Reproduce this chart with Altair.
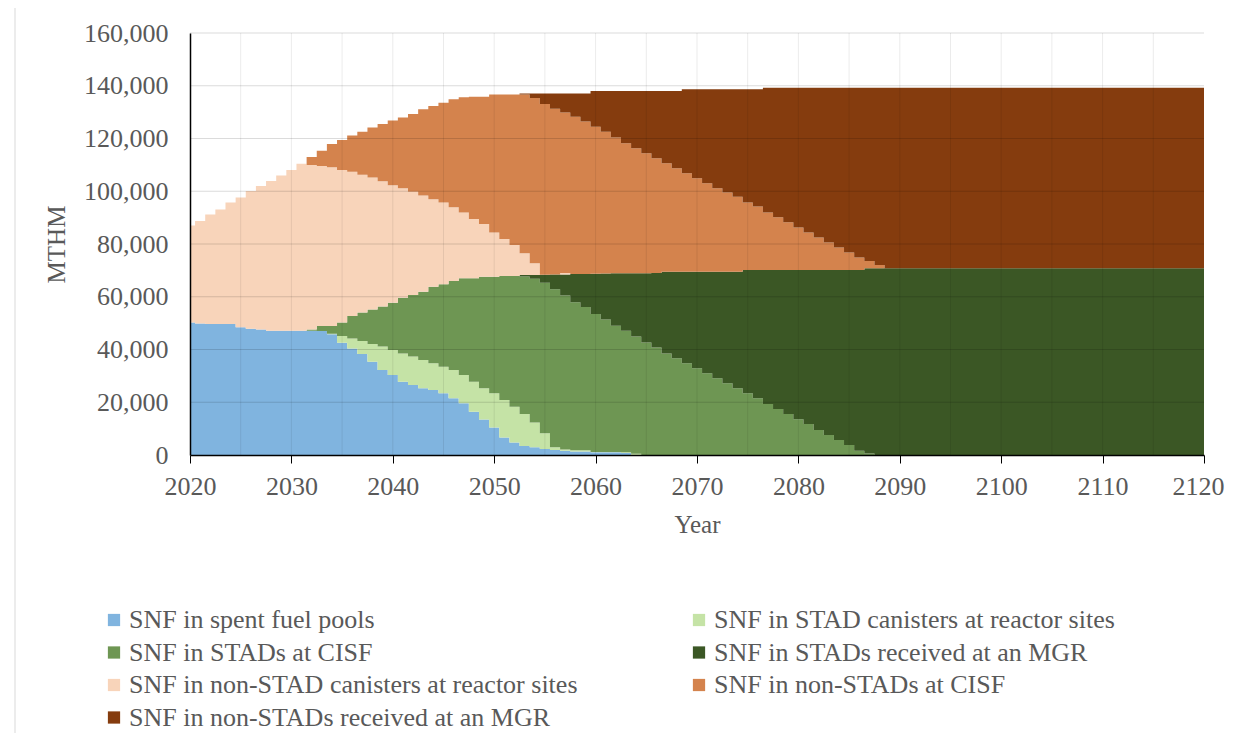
import altair as alt
import pandas as pd

# Years (one value per year, steps centred on the year)
years = list(range(2020, 2121))

series_names = [
    "SNF in spent fuel pools",
    "SNF in STAD canisters at reactor sites",
    "SNF in STADs at CISF",
    "SNF in STADs received at an MGR",
    "SNF in non-STAD canisters at reactor sites",
    "SNF in non-STADs at CISF",
    "SNF in non-STADs received at an MGR",
]
series_colors = ["#80B4DF", "#C5E3A6", "#6E9653", "#3B5725", "#F8D4BA", "#D4834D", "#853C0E"]

# Values in thousand MTHM, years 2020..2120
pools = [
    50.2, 49.9, 49.7, 49.7, 49.7, 48.4, 47.9, 47.6, 47.1, 47.1, 47.1, 47.1,
    47.1, 47.0, 45.8, 42.6, 40.4, 38.3, 35.4, 32.2, 30.3, 27.8,
    26.5, 25.3, 24.6, 23.4, 21.5, 19.6, 16.4, 13.5, 10.4, 6.6,
    4.7, 3.4, 2.9, 2.3, 1.9, 1.6, 1.3, 1.3, 1.0, 1.0,
    1.0, 0.8, 0, 0, 0, 0, 0, 0, 0, 0,
    0, 0, 0, 0, 0, 0, 0, 0, 0, 0,
    0, 0, 0, 0, 0, 0, 0, 0, 0, 0,
    0, 0, 0, 0, 0, 0, 0, 0, 0, 0,
    0, 0, 0, 0, 0, 0, 0, 0, 0, 0,
    0, 0, 0, 0, 0, 0, 0, 0, 0,
]
stad_reactor = [
    0, 0, 0, 0, 0, 0, 0, 0, 0, 0, 0, 0,
    0, 0, 0.2, 2.5, 3.8, 4.9, 6.7, 8.9, 9.5, 10.7,
    10.8, 10.7, 10.2, 10.1, 10.7, 10.7, 11.4, 11.8, 13.0, 14.3,
    13.6, 12.1, 9.4, 5.9, 1.0, 0.5, 0.5, 0.5, 0.1, 0.1,
    0.1, 0.2, 0.5, 0, 0, 0, 0, 0, 0, 0,
    0, 0, 0, 0, 0, 0, 0, 0, 0, 0,
    0, 0, 0, 0, 0, 0, 0, 0, 0, 0,
    0, 0, 0, 0, 0, 0, 0, 0, 0, 0,
    0, 0, 0, 0, 0, 0, 0, 0, 0, 0,
    0, 0, 0, 0, 0, 0, 0, 0, 0,
]
stad_cisf = [
    0, 0, 0, 0, 0, 0, 0, 0, 0, 0, 0, 0,
    0.5, 1.9, 2.9, 5.1, 8.5, 10.8, 13.1, 15.2, 17.9, 21.1,
    23.4, 25.9, 29.0, 31.2, 33.8, 36.7, 39.2, 42.3, 44.2, 47.0,
    49.6, 52.2, 54.5, 57.1, 59.9, 58.4, 56.1, 54.3, 52.4, 50.3,
    47.9, 46.1, 44.4, 42.7, 40.8, 38.5, 36.7, 34.8, 32.9, 31.0,
    29.1, 27.2, 25.3, 23.4, 21.5, 19.3, 17.4, 15.5, 13.6, 11.8,
    9.5, 7.6, 5.7, 3.8, 1.6, 0.6, 0, 0, 0, 0,
    0, 0, 0, 0, 0, 0, 0, 0, 0, 0,
    0, 0, 0, 0, 0, 0, 0, 0, 0, 0,
    0, 0, 0, 0, 0, 0, 0, 0, 0,
]
stad_mgr = [
    0, 0, 0, 0, 0, 0, 0, 0, 0, 0, 0, 0,
    0, 0, 0, 0, 0, 0, 0, 0, 0, 0,
    0, 0, 0, 0, 0, 0, 0, 0, 0, 0,
    0, 0.5, 1.4, 3.0, 5.6, 7.9, 10.7, 12.5, 15.2, 17.4,
    19.9, 21.8, 24.0, 26.2, 28.2, 31.0, 32.8, 34.7, 36.6, 38.5,
    40.4, 42.3, 44.2, 46.7, 48.6, 50.8, 52.7, 54.6, 56.5, 58.3,
    60.6, 62.5, 64.4, 66.3, 68.5, 70.2, 70.8, 70.8, 70.8, 70.8,
    70.8, 70.8, 70.8, 70.8, 70.8, 70.8, 70.8, 70.8, 70.8, 70.8,
    70.8, 70.8, 70.8, 70.8, 70.8, 70.8, 70.8, 70.8, 70.8, 70.8,
    70.8, 70.8, 70.8, 70.8, 70.8, 70.8, 70.8, 70.8, 70.8,
]
nonstad_reactor = [
    36.8, 38.8, 41.5, 43.4, 46.0, 49.2, 52.2, 54.4, 56.8, 58.9, 61.0, 63.3,
    62.4, 60.7, 60.2, 57.9, 54.7, 52.3, 50.0, 47.5, 44.6, 41.5,
    39.1, 36.5, 33.2, 31.0, 27.9, 24.9, 22.5, 20.0, 16.8, 14.0,
    11.7, 8.3, 4.5, 0, 0, 0.6, 0, 0, 0, 0,
    0, 0, 0, 0, 0, 0, 0, 0, 0, 0,
    0, 0, 0, 0, 0, 0, 0, 0, 0, 0,
    0, 0, 0, 0, 0, 0, 0, 0, 0, 0,
    0, 0, 0, 0, 0, 0, 0, 0, 0, 0,
    0, 0, 0, 0, 0, 0, 0, 0, 0, 0,
    0, 0, 0, 0, 0, 0, 0, 0, 0,
]
nonstad_cisf = [
    0, 0, 0, 0, 0, 0, 0, 0, 0, 0, 0, 0,
    3.0, 5.8, 8.8, 11.3, 13.7, 16.3, 19.0, 21.7, 24.5, 26.9,
    29.5, 32.7, 35.3, 37.9, 41.0, 43.7, 46.3, 48.2, 52.3, 54.8,
    57.1, 60.2, 62.7, 64.8, 62.9, 60.9, 59.6, 57.8, 55.8, 53.8,
    51.5, 49.3, 47.4, 45.5, 43.5, 41.1, 39.2, 37.3, 35.4, 33.5,
    31.6, 30.0, 28.4, 25.6, 24.1, 21.8, 20.0, 18.1, 16.2, 14.3,
    12.4, 10.5, 8.6, 6.7, 4.8, 2.8, 1.2, 0, 0, 0,
    0, 0, 0, 0, 0, 0, 0, 0, 0, 0,
    0, 0, 0, 0, 0, 0, 0, 0, 0, 0,
    0, 0, 0, 0, 0, 0, 0, 0, 0,
]
nonstad_mgr = [
    0, 0, 0, 0, 0, 0, 0, 0, 0, 0, 0, 0,
    0, 0, 0, 0, 0, 0, 0, 0, 0, 0,
    0, 0, 0, 0, 0, 0, 0, 0, 0, 0,
    0, 0.4, 1.7, 4.0, 5.8, 7.2, 8.9, 10.7, 13.5, 15.4,
    17.6, 19.8, 21.7, 23.6, 25.5, 27.4, 29.3, 31.9, 33.8, 35.7,
    37.6, 39.2, 40.8, 43.0, 44.5, 47.3, 49.1, 51.0, 52.9, 54.8,
    56.7, 58.6, 60.5, 62.4, 64.3, 65.6, 67.2, 68.4, 68.4, 68.4,
    68.4, 68.4, 68.4, 68.4, 68.4, 68.4, 68.4, 68.4, 68.4, 68.4,
    68.4, 68.4, 68.4, 68.4, 68.4, 68.4, 68.4, 68.4, 68.4, 68.4,
    68.4, 68.4, 68.4, 68.4, 68.4, 68.4, 68.4, 68.4, 68.4,
]

all_series = [pools, stad_reactor, stad_cisf, stad_mgr,
              nonstad_reactor, nonstad_cisf, nonstad_mgr]

y_ticks = [0, 20000, 40000, 60000, 80000, 100000, 120000, 140000, 160000]
x_ticks = [2020, 2030, 2040, 2050, 2060, 2070, 2080, 2090, 2100, 2110, 2120]
grid_years = [2025, 2030, 2035, 2040, 2045, 2050, 2055, 2060, 2065, 2070,
              2075, 2080, 2085, 2090, 2095, 2100, 2105, 2110, 2115]

rows = []
for k, (name, vals) in enumerate(zip(series_names, all_series)):
    assert len(vals) == len(years), (name, len(vals))
    for yr, v in zip(years, vals):
        rows.append({"year": yr, "mthm": v * 1000, "series": name, "order": k})
df = pd.DataFrame(rows)

# Legend is filled column by column: this order gives the reference's row layout
legend_order = [series_names[i] for i in (0, 2, 4, 6, 1, 3, 5)]
legend_colors = [series_colors[i] for i in (0, 2, 4, 6, 1, 3, 5)]

FONT = "Liberation Serif"
TXT = "#595959"

x_scale = alt.Scale(domain=[2020, 2120], nice=False, zero=False)
y_scale = alt.Scale(domain=[0, 160000], nice=False)

last_tick = "datum.value == 2120"
x_axis = alt.Axis(values=x_ticks, format="d", title="Year", grid=False,
                  tickSize=8, tickColor="black", domainColor="black",
                  domainWidth=1.5, labelPadding=10, titlePadding=13,
                  labelFlush=False, zindex=1,
                  labelAlign={"condition": {"test": last_tick, "value": "right"},
                              "value": "center"},
                  labelOffset={"condition": {"test": last_tick, "value": 20},
                               "value": 0})
y_axis = alt.Axis(values=y_ticks, format=",.0f", title="MTHM", grid=False,
                  ticks=False, domainColor="black", domainWidth=1.5,
                  labelPadding=22, titlePadding=14, zindex=1)

areas = alt.Chart(df).mark_area(interpolate="step").encode(
    x=alt.X("year:Q", scale=x_scale, axis=x_axis),
    y=alt.Y("mthm:Q", stack="zero", scale=y_scale, axis=y_axis),
    color=alt.Color("series:N",
                    scale=alt.Scale(domain=legend_order, range=legend_colors),
                    legend=alt.Legend(title=None, orient="none", legendX=-89,
                                      legendY=574, columns=2, columnPadding=108,
                                      rowPadding=6.5, symbolType="square",
                                      symbolSize=150, symbolStrokeWidth=0,
                                      labelOffset=2, padding=0,
                                      labelLimit=600)),
    order=alt.Order("order:Q"),
)

vgrid_df = pd.DataFrame({"gx": grid_years, "y0": 0, "y1": 160000})
vgrid = alt.Chart(vgrid_df).mark_rule(
    color="black", opacity=0.08, strokeWidth=1
).encode(
    x=alt.X("gx:Q", scale=x_scale, axis=x_axis),
    y=alt.Y("y0:Q", scale=y_scale, axis=y_axis),
    y2="y1:Q",
)

hgrid_df = pd.DataFrame({"gy": y_ticks[1:], "x0": 2020, "x1": 2120})
hgrid = alt.Chart(hgrid_df).mark_rule(
    color="black", opacity=0.14, strokeWidth=1
).encode(
    y=alt.Y("gy:Q", scale=y_scale, axis=y_axis),
    x=alt.X("x0:Q", scale=x_scale, axis=x_axis),
    x2="x1:Q",
)

# faint outer chart frame (only its left and top edges fall inside the picture)
frame = alt.Chart(pd.DataFrame({"f": [0]})).mark_rect(
    fill=None, stroke="#d9d9d9", strokeWidth=1
).encode(
    x=alt.value(-175), x2=alt.value(1100),
    y=alt.value(-27), y2=alt.value(800),
)

chart = alt.layer(frame, areas, vgrid, hgrid).properties(
    width=1014,
    height=422,
    autosize="none",
    padding={"left": 182, "top": 25, "right": 22, "bottom": 278},
).configure_view(stroke=None).configure_axis(
    labelFont=FONT, labelFontSize=26, labelColor=TXT,
    titleFont=FONT, titleFontSize=25, titleColor=TXT, titleFontWeight="normal",
).configure_legend(
    labelFont=FONT, labelFontSize=26, labelColor=TXT,
)

chart.save("out.html", embed_options={"renderer": "svg", "actions": False})
